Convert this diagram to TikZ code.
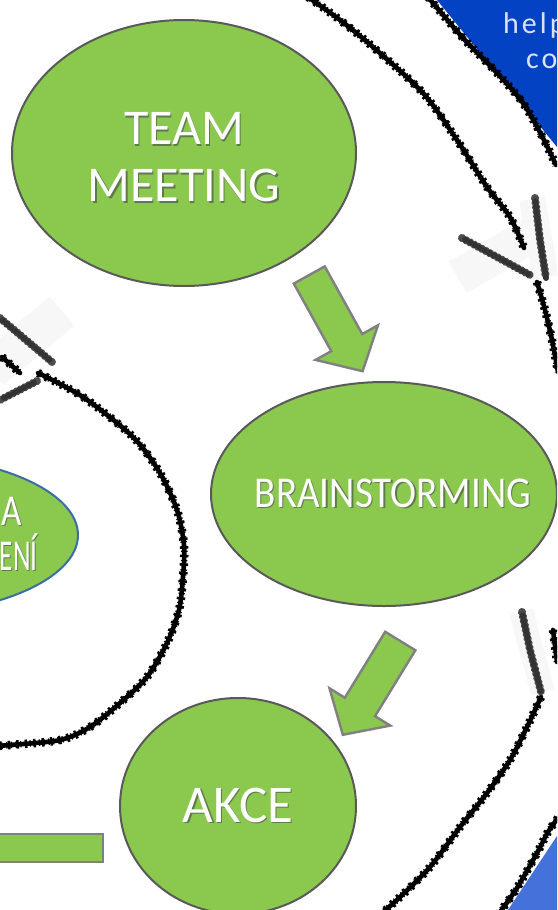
\documentclass[tikz,border=0pt]{standalone}
\usepackage{fontspec}
\setmainfont{Carlito}
\usepackage{tikz}
\usetikzlibrary{shapes,shapes.arrows}

\definecolor{leaf}{RGB}{139,201,78}
\definecolor{rim}{RGB}{89,89,89}
\definecolor{arrowrim}{RGB}{128,128,128}
\definecolor{deepblue}{RGB}{4,66,196}
\definecolor{skyblue}{RGB}{68,114,218}
\definecolor{bluerim}{RGB}{58,110,165}
\definecolor{shade}{RGB}{96,122,76}

% white caption with a soft drop shadow
\newcommand{\shadowed}[1]{\leavevmode\rlap{\kern1.4pt\raisebox{-1.4pt}{\textcolor{shade}{#1}}}#1}

\tikzstyle{bubble}=[
	ellipse,
	draw=rim,
	line width=2pt,
	fill=leaf,
	text=white,
	inner sep=0pt,
	align=center
]
\tikzstyle{caption}=[
	text=white,
	inner sep=0pt
]
\tikzstyle{blockarr}=[
	single arrow,
	draw=arrowrim,
	line width=2.4pt,
	fill=leaf,
	inner xsep=0pt,
	inner ysep=16.5pt,
	single arrow head extend=18pt,
	single arrow tip angle=95
]
\tikzstyle{brush}=[
	line width=4.6pt,
	black,
	line cap=round,
	line join=round,
	postaction={draw, line width=8.5pt, line cap=butt, dash pattern=on 2.5pt off 6pt},
	postaction={draw, line width=6.5pt, line cap=butt, dash pattern=on 1.2pt off 3.5pt, dash phase=2pt}
]
\tikzstyle{smudge}=[
	line width=3.5pt,
	black!85,
	line cap=round,
	postaction={draw, line width=8pt, black!70, line cap=round, dash pattern=on 0.5pt off 4pt},
	postaction={draw, line width=6pt, black!80, line cap=round, dash pattern=on 0.5pt off 5pt, dash phase=2pt}
]
\tikzstyle{patch}=[
	fill=black!3
]
\tikzstyle{corner}=[
	text=white,
	text opacity=0.85,
	inner sep=0pt,
	font=\fontsize{30}{34}\selectfont\addfontfeature{LetterSpace=10}
]

\begin{document}
\begin{tikzpicture}[x=1pt,y=-1pt]
\useasboundingbox (0,0) rectangle (557,910);
\clip (0,0) rectangle (557,910);
\fill[white] (0,0) rectangle (557,910);

% blue corners of the neighbouring slides
\fill[deepblue] (437,0) -- (557,147) -- (557,0) -- cycle;
\fill[skyblue] (508,910) -- (557,836) -- (557,910) -- cycle;
\node[corner, anchor=base west] (help) at (503,33) {help};
\node[corner, anchor=base west] (co) at (526,68) {co};

% faint patches behind the smudged strokes
\fill[patch, rotate around={30:(495,256)}] (452,238) rectangle (540,274);
\fill[patch, rotate around={-80:(540,238)}] (500,226) rectangle (580,252);
\fill[patch, rotate around={40:(26,340)}] (-20,322) rectangle (72,360);
\fill[patch, rotate around={-75:(532,652)}] (490,640) rectangle (574,664);

% brush strokes
\draw[brush] plot[smooth] coordinates {(308,-3) (340,20) (373,47) (423,93) (457,140) (487,187) (510,217) (524,248)};
\draw[brush] plot[smooth] coordinates {(537,282) (545,310) (552,340) (558,372)};
\draw[brush] plot[smooth] coordinates {(428,-3) (463,38) (497,73) (523,103) (543,138) (556,165)};
\draw[brush] plot[smooth] coordinates {(38,373) (83,397) (133,437) (160,473) (177,510) (184,545) (183,577) (179,610) (167,643) (147,677) (120,703) (90,727) (60,740) (10,745) (-5,746)};
\draw[brush] plot[smooth] coordinates {(541,697) (527,727) (510,760) (487,793) (460,827) (430,867) (400,897) (380,915)};
\draw[brush] plot[smooth] coordinates {(558,818) (548,832) (537,853) (517,888) (500,912)};
\draw[brush] (553,630) -- (557,662);
\draw[brush] (2,357) -- (20,373);
\draw[smudge] (462,238) -- (530,275);
\draw[smudge] (535,198) -- (540,240) -- (546,278);
\draw[smudge] (0,318) -- (52,362);
\draw[smudge] (37,381) -- (0,400);
\draw[smudge] (522,612) -- (530,650) -- (541,692);

% the cycle
\node[bubble, draw=bluerim, minimum width=372, minimum height=160] (0) at (-108,535) {};
\node[caption, anchor=base east, font=\fontsize{44}{48}\selectfont] (0a) at (22,525) {\scalebox{0.8}[1]{\shadowed{A}}};
\node[caption, anchor=base east, font=\fontsize{44}{48}\selectfont] (0b) at (38,570) {\scalebox{0.62}[1]{\shadowed{ENÍ}}};

\node[bubble, minimum width=344, minimum height=266, font=\fontsize{50}{57}\selectfont] (1) at (184,153) {\rule{0pt}{42pt}\shadowed{TEAM}\\\shadowed{MEETING}};
\node[bubble, minimum width=346, minimum height=224, font=\fontsize{44}{50}\selectfont] (2) at (384,494) {\makebox[0pt]{\kern18pt\scalebox{0.89}[1]{\shadowed{BRAINSTORMING}}}};
\node[bubble, minimum width=236, minimum height=216, font=\fontsize{53}{58}\selectfont] (3) at (238,806) {\shadowed{AKCE}};

\node[blockarr, rotate=-61, minimum height=110] (a1) at (332,316) {};
\node[blockarr, rotate=-121.5, minimum height=110] (a2) at (375.8,681) {};
\draw[line width=2.4pt, draw=arrowrim, fill=leaf] (-20,834) rectangle (103,862);

\end{tikzpicture}
\end{document}
